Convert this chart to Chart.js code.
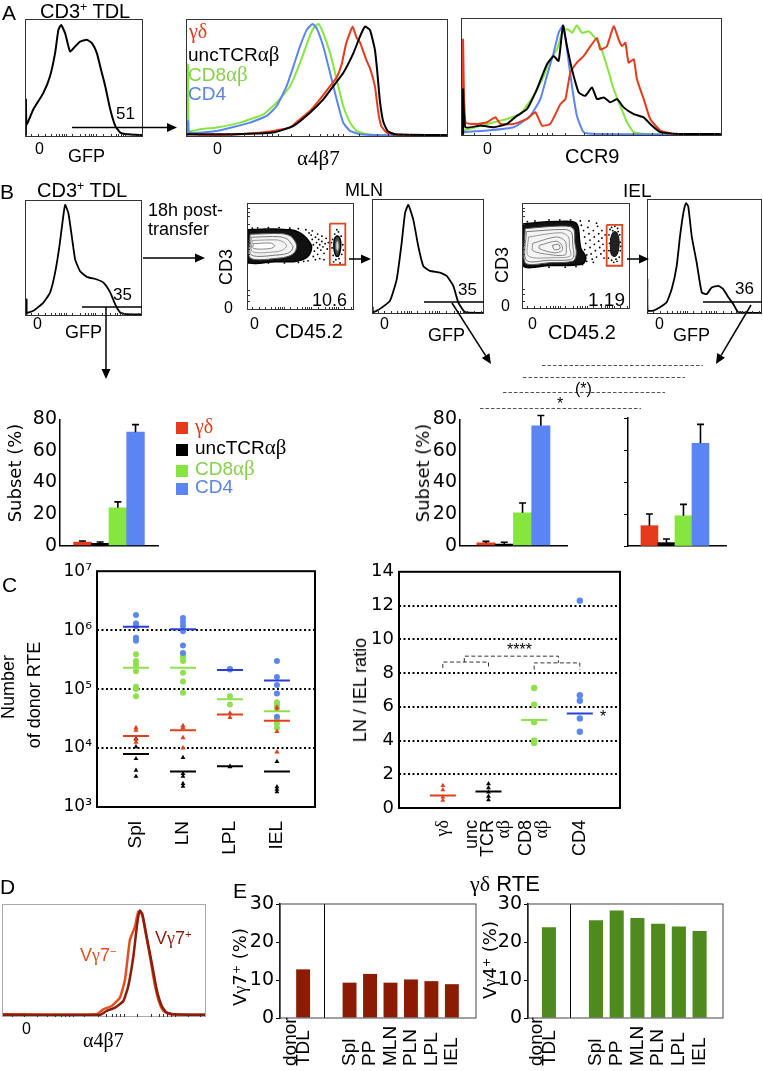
<!DOCTYPE html>
<html><head><meta charset="utf-8"><title>Figure</title>
<script src="https://cdn.jsdelivr.net/npm/chart.js@4.4.1/dist/chart.umd.min.js"></script>
<style>
html,body{margin:0;padding:0;background:#fff;}
body{width:763px;height:1071px;position:relative;overflow:hidden;font-family:"Liberation Sans",Arial,Helvetica,sans-serif;color:#000;}
canvas.c{position:absolute;}
#ov{position:absolute;left:0;top:0;z-index:5;pointer-events:none;}
.t{position:absolute;white-space:nowrap;line-height:1;z-index:6;}
.sf{font-family:"Liberation Serif","Times New Roman",serif;}
.gk{font-family:"Liberation Serif","Times New Roman",serif;font-size:1.1em;}
.vd{font-family:"DejaVu Sans",Verdana,sans-serif;}
.rot{transform:translate(-50%,-50%) rotate(-90deg);}
.sup{font-size:0.62em;position:relative;top:-0.55em;}
.sq{position:absolute;width:12px;height:12px;z-index:6;}
</style></head><body>
<script>
// ================= DATA =================
// Panel A histograms: [x (% of axis), y (% of max)]
const a1Gfp = [[0.8,0],[0.8,31],[1.4,9.9],[7.1,22.7],[15.6,36.8],[21.2,51],[25.5,70.8],[28.3,90.7],[30.6,94.9],[34,87.8],[38.2,72.2],[42.5,76.5],[46.7,80.7],[52.4,82.2],[56.7,79.3],[60.9,70.8],[63.7,59.5],[68,42.5],[72.2,22.7],[76.5,8.5],[80.7,2.8],[86.4,1.4],[100,0.6]];
const a2Gd  = [[0.3,1.4],[11.7,0.6],[24.4,2],[33.3,4.2],[39.7,7.1],[43.5,14.2],[47.3,21.2],[51.1,31.2],[55,42.5],[57.5,50],[59.5,62],[61,78],[62.2,86],[63.6,93.5],[65.1,84],[66.4,80],[67.7,72],[69,64],[70.2,58],[72.1,42.5],[73.4,20],[74.6,8],[76.6,2.8],[80,1],[100,0.6]];
const a2Unc = [[0.3,1.4],[18,1.4],[33.3,2.8],[41,8.5],[47.3,19.8],[52.4,31.2],[56.2,42.5],[60,53.8],[63.9,70.8],[66.4,85],[68.3,93.5],[70.2,90.7],[72.1,73.7],[73,55],[74,30],[75.3,12],[77,4],[79.8,1.4],[100,0.6]];
const a2Cd8 = [[0.5,0],[0.8,61],[1.2,4.2],[5.3,5.7],[11.7,7.1],[20.6,11.3],[29.5,18.4],[34.6,28.3],[39.7,42.5],[43.5,62.3],[46.7,82.2],[48.6,92],[50.5,95.8],[52.4,87.8],[55,70.8],[57.5,48.2],[60,25.5],[62.6,11.3],[65.1,4.2],[69,1.4],[74,0.6],[100,0.3]];
const a2Cd4 = [[0.5,0],[0.8,12.7],[1.2,2.8],[11.7,4.2],[24.4,11.3],[30.8,17],[34.6,25.5],[38.4,42.5],[41,59.5],[43.5,76.5],[46.1,90.7],[48.3,95.8],[49.9,92],[52.4,76.5],[55,53.8],[57.5,31.2],[60,11.3],[62.6,4.2],[66.4,1.4],[74,0.6],[100,0.3]];
const a3Gd  = [[0.8,0],[0.8,81.6],[1.7,10.8],[6.1,9.3],[10,10.8],[13.2,15],[15.1,9.3],[20.2,9.3],[25.3,13.6],[28.5,19.3],[31,7.9],[34.2,9.3],[38.1,26.3],[40,30.6],[41.9,53.3],[44.4,61.8],[47,67.4],[49.6,75.9],[52.1,83],[53.4,73.1],[55.9,75.9],[58.5,92.9],[60.4,81.6],[61.7,75.9],[63,78.7],[64.2,61.8],[66.2,64.6],[67.4,47.6],[70,30.6],[72.5,13.6],[76.4,3.7],[81.5,0.8],[100,0]];
const a3Unc = [[0.8,0],[0.8,39],[1.7,6.5],[7.4,7.9],[12.5,6.5],[17.6,9.3],[21.5,16.4],[25.3,22.1],[29.1,39.1],[32.9,60.3],[35.5,67.4],[37.4,63.2],[39.1,93.5],[40.6,75.9],[42.5,56.1],[45.1,36.3],[47.6,33.4],[50.2,40.5],[52.1,30.6],[54.7,32],[57.2,27.8],[59.8,30.6],[62.3,23.5],[66.2,17.8],[70,15],[72.5,9.3],[76.4,2.3],[84,0.8],[100,0.6]];
const a3Cd8 = [[1,3.7],[10,9.3],[17.6,13.6],[22.7,17.8],[27.8,33.4],[31.7,50.4],[34.2,64.6],[36.8,73.1],[39.1,90],[41.3,90],[42.5,87.3],[44.4,93.5],[46.4,87.3],[48.9,88.7],[50.8,84.4],[53.4,75.9],[55.9,58.9],[58.5,39.1],[61,24.9],[63.6,10.8],[66.2,2.3],[71.3,0.8],[100,0]];
const a3Cd4 = [[1,2.3],[10,3.7],[20.2,6.5],[26.6,16.4],[30.4,30.6],[32.9,50.4],[35.5,70.3],[37.4,87.3],[39.1,93.5],[40.6,73.1],[42.5,41.9],[44.4,16.4],[47,2.3],[52.1,0.8],[100,0]];

// Panel B histograms
const b1Gfp   = [[1.4,0],[1.4,13.5],[1.6,2],[7.1,3.5],[15.7,10.7],[21.4,19.3],[25.7,36.6],[29.4,59.7],[32.3,82.7],[34.3,95.7],[37.1,88.5],[40,68.3],[42.9,48.1],[47.1,38],[52.9,33.1],[61.4,30.8],[67.1,28],[72.9,19.3],[77.1,9.2],[81.4,2],[87.1,0.6],[100,0.3]];
const bMlnGfp = [[0.6,0],[0.6,5],[1,0.6],[7.1,3.5],[16.1,10.7],[22.1,29.6],[26.5,61.5],[29.5,87.6],[32.4,94.8],[36.9,81.7],[41.3,58.5],[45.8,41.1],[51.8,36.8],[60.7,35.4],[66.7,32.4],[72.6,23.7],[77,9.3],[83,0.6],[99.4,0]];
const bIelGfp = [[0.3,0],[0.3,29.6],[0.6,2],[5.5,2],[11.3,5],[17.1,9.3],[21.5,20.9],[25.8,41.1],[28.7,67.2],[31.6,87.6],[33.9,96.3],[35.9,93.3],[38.9,67.2],[43.2,44.1],[47.6,18],[51.9,16.5],[56.3,22.3],[62,23.7],[66.3,20.9],[70.7,13.7],[75,7.8],[79.4,0.6],[99.7,0]];

// Panel B contour plots: [CD45.2 %, CD3 %]
const mlnOuter = [[0.6,74.9],[14.5,75.5],[26.1,75.8],[40.6,74.9],[47.8,72.9],[53.6,69.1],[58,64.1],[60.3,59.8],[59.4,53.9],[56.5,49.6],[50.7,46.6],[43.5,45.2],[26.1,45.2],[0.6,45.2],[0.6,74.9]];
const mlnInner = [[2.9,70.8],[31.9,71.4],[40.6,69.1],[44.9,64.1],[46.4,59.8],[44.9,54.5],[40.6,51],[31.9,48.7],[2.9,48.7],[2.9,70.8]];
const mlnLoop1 = [[4,68],[30,68.5],[38,66],[42,61],[43,59.5],[42,56],[38,53],[30,51.5],[4,51.5],[4,68]];
const mlnLoop2 = [[5,65],[28,65.5],[34,63.5],[37,60],[34,56.5],[28,54.5],[5,54.5],[5,65]];
const mlnLoop3 = [[6,62],[22,62.5],[26,60],[22,57.5],[6,57.5],[6,62]];
const mlnDots = [[58,72],[60,70],[61,66],[62,61],[63,55],[62,50],[64,68],[65,63],[66,58],[66,52],[67,66],[68,61],[69,56],[70,64],[71,59],[72,53],[73,62],[74,67],[75,57],[76,63],[64,47],[68,48],[57,46],[55,75],[48,76],[40,76.5],[30,77],[20,77],[10,76.8],[5,76.5],[35,44],[20,44],[10,44],[48,44.5],[53,45.5],[61,74],[66,71],[70,69],[72,47],[59,57],[79.5,58],[80,66],[80.5,51],[82,71],[83,47],[85.5,73],[86,48],[88,69],[88.5,52],[89.5,61],[79,63],[90,56],[81,45],[87,44],[84,75]];
const mlnGateBlob = [[84,69.5],[86.3,68],[87.6,63],[87.2,56],[85.5,50.5],[83.3,50.5],[81.6,55],[81.2,62],[82,67],[84,69.5]];
const mlnGateCore = [[84.3,65],[85.6,63],[86,59],[85.2,55.5],[83.8,55.5],[83,59],[83.3,63],[84.3,65]];
const mlnGate = [[77.4,80.8],[91.9,80.8],[91.9,42.3],[77.4,42.3],[77.4,80.8]];

const ielOuter = [[0.6,80.2],[14.4,81.6],[31.6,82.5],[46,82.5],[50.3,80.8],[52.3,75.8],[53.2,65.6],[54.6,56.9],[58.9,49.6],[57.5,43.7],[51.7,41.7],[40.2,41.1],[25.9,41.1],[0.6,41.1],[0.6,80.2]];
const ielInner = [[2.9,75.8],[25.9,77.8],[44.5,77.8],[48.3,74.3],[48.9,62.7],[50.3,52.5],[47.4,45.2],[25.9,43.7],[2.9,43.7],[2.9,75.8]];
const ielLoop1 = [[4,73],[40,75],[46,72],[47,60],[48,50],[45,46.5],[25,46],[4,46],[4,73]];
const ielLoop2 = [[6,68],[36,72],[43,68],[44,58],[45,50],[30,48.5],[6,50],[6,68]];
const ielLoop3 = [[10,62],[32,68],[40,64],[41,56],[40,51],[28,51],[10,55],[10,62]];
const ielLoop4 = [[16,60],[32,64],[37,60],[37,55],[30,53],[16,57],[16,60]];
const ielLoop5 = [[28,60],[34,61],[35,57],[30,56],[28,60]];
const ielDots = [[55,79],[57,74],[58,68],[59,62],[58,56],[60,51],[61,77],[62,71],[63,65],[63,58],[64,52],[65,47],[66,74],[67,68],[67,61],[68,55],[69,49],[70,78],[71,71],[71,64],[72,58],[73,52],[74,67],[75,61],[76,55],[74,74],[77,70],[60,45],[66,44],[54,83],[45,84],[35,84],[25,84],[12,83],[5,82.5],[40,39.5],[25,39.5],[12,39.5],[50,40],[56,42],[62,83],[69,81],[76,48],[53,46],[80,48],[80.5,55],[81,62],[80.5,70],[81.5,75],[83,46],[83,77],[85,44],[86,78],[88,45],[88.5,76],[90,49],[91,55],[91,63],[90.5,70],[82,66],[89,73],[84,74],[87,47],[91.5,59]];
const ielGateBlob = [[85,73],[87.5,72.5],[89.5,68],[90,61],[89,54],[87,50],[84.5,49.5],[82.5,52],[81.8,58],[82,65],[83,70],[85,73]];
const ielGate = [[78.4,79.3],[92.8,79.3],[92.8,40.8],[78.4,40.8],[78.4,79.3]];

// Panel B subset bars (%)
const subsets = ['γδ','uncTCRαβ','CD8αβ','CD4'];
const subsetTdl = [2.3,1.4,24,71.9];   const subsetTdlErr = [2.9,2.3,27.7,76.7];
const subsetMln = [1.7,1.0,20.8,76];   const subsetMlnErr = [2.7,2.1,27,82.5];
const subsetIel = [12.7,2.1,18.9,64.2]; const subsetIelErr = [20,4.4,26,76];

// Panel C: number of donor RTE per tissue
const cTissues = ['Spl','LN','LPL','IEL'];
const cCd4 = [[1.8e6,1.3e6,1.17e6,7.4e5,6.6e5],[1.6e6,1.38e6,1.18e6,9.6e5,5.5e5,4.1e5],[2.2e5,2.15e5],[3.0e5,1.6e5,1.17e5,8.4e4,3.4e4]];
const cCd4Mean = [1.14e6,1.04e6,2.1e5,1.4e5];
const cCd8 = [[3.9e5,3.0e5,2.6e5,2.0e5,1.1e5,1.0e5,7.6e4],[3.8e5,3.45e5,3.0e5,1.9e5,1.35e5,8.7e4],[7.6e4,5.5e4],[6.0e4,5.4e4,4.8e4,3.1e4,2.6e4,2.2e4]];
const cCd8Mean = [2.3e5,2.3e5,6.7e4,4.2e4];
const cGd = [[2.2e4,2.0e4,1.4e4,1.25e4],[2.4e4,2.2e4,1.5e4,1.0e4],[3.9e4,3.3e4],[4.9e4,4.4e4,1.9e4,8.6e3]];
const cGdMean = [1.6e4,2.0e4,3.7e4,2.9e4];
const cUnc = [[1.45e4,1.05e4,6.6e3,4.2e3,3.3e3],[6.9e3,3.7e3,3.3e3,2.5e3,2.25e3],[4.8e3,4.9e3],[5.9e3,2.2e3,2.0e3,1.8e3]];
const cUncMean = [7.9e3,4.0e3,4.9e3,4.0e3];
const cTicks = [1e3,1e4,1e5,1e6,1e7];

// Panel C: LN / IEL ratio
const ratioCats = ['γδ','unc TCR αβ','CD8 αβ','CD4'];
const ratioGd  = [1.33,1.08,0.65,0.45];
const ratioUnc = [1.43,1.19,0.94,0.69,0.49];
const ratioCd8 = [7.11,6.13,5.09,4.01,3.86];
const ratioCd4 = [12.29,6.68,6.36,5.31,4.52];
const ratioMeans = [0.74,0.98,5.21,5.6];

// Panel D histograms
const dVg7pos = [[0,0.9],[48,0.9],[51.3,4.4],[55.4,7.4],[59.5,13.3],[61.9,26.6],[64.4,53.3],[66.3,82.8],[67.6,94.1],[68.9,90.2],[70.9,71],[73.4,47.3],[75.8,23.7],[78.3,8.9],[80.7,3],[84,1.5],[100,0.9]];
const dVg7neg = [[0,1.5],[46.4,1.5],[49.7,5.9],[53.8,8.9],[57.8,16.3],[60.3,32.5],[62.7,68],[65.2,79.9],[66.8,93.2],[68.5,91.7],[70.1,76.9],[72.5,53.3],[75,26.6],[77.1,11.8],[79.1,4.4],[82.4,1.5],[100,0.9]];

// Panel E: γδ RTE
const eCats = ['donor TDL','Spl','PP','MLN','PLN','LPL','IEL'];
const eVg7 = [12.8,9.3,11.6,9.3,10.15,9.7,8.9];
const eVg4 = [23.9,25.7,28.3,26.3,24.8,24.1,22.9];

// flow axis minor tick positions (% of axis)
const flowTicks = [5,11,17,22,26,29,31,33,35,40,47,51,54,56,58,60,66,73,77,79,81,83,85,91,97];
const contourTicksY = [8,14,19,44,52,57,60,63,65,80,88,92,95];

// ================= STYLE CONSTANTS =================
const RED='#e63a1c', BLK='#000', GRN='#86e63f', BLU='#5b85f2';
const SANS='"Liberation Sans", Arial, sans-serif', SERIF='"Liberation Serif", "Times New Roman", serif', VERD='"DejaVu Sans", Verdana, sans-serif';

// ================= PLUGINS =================
const framePlugin = { id:'frame', afterDraw(chart,args,o){
  if(!o || !o.color) return; const {ctx,chartArea:a}=chart; const w=o.width||1; const i=o.inset?w/2:0;
  ctx.save(); ctx.strokeStyle=o.color; ctx.lineWidth=w; ctx.strokeRect(a.left+i,a.top+i,a.right-a.left-2*i,a.bottom-a.top-2*i); ctx.restore(); } };
const fticksPlugin = { id:'fticks', afterDraw(chart,args,o){
  if(!o || (!o.x && !o.y)) return; const {ctx,chartArea:a}=chart; const L=o.len||3;
  ctx.save(); ctx.strokeStyle=o.color||'#333'; ctx.lineWidth=1; ctx.beginPath();
  (o.x||[]).forEach(v=>{const p=Math.round(chart.scales.x.getPixelForValue(v))+0.5; ctx.moveTo(p,a.bottom); ctx.lineTo(p,a.bottom-L);});
  (o.y||[]).forEach(v=>{const p=Math.round(chart.scales.y.getPixelForValue(v))+0.5; ctx.moveTo(a.left,p); ctx.lineTo(a.left+L,p);});
  ctx.stroke(); ctx.restore(); } };
const errPlugin = { id:'errbars', afterDatasetsDraw(chart){
  const ctx=chart.ctx, ys=chart.scales.y;
  chart.data.datasets.forEach((ds,di)=>{ if(!ds.errorBars) return; const meta=chart.getDatasetMeta(di);
    meta.data.forEach((bar,i)=>{ const yt=ys.getPixelForValue(ds.errorBars[i]);
      ctx.save(); ctx.strokeStyle='#000'; ctx.lineWidth=1.6; ctx.beginPath();
      ctx.moveTo(bar.x,bar.y); ctx.lineTo(bar.x,yt); ctx.moveTo(bar.x-3.5,yt); ctx.lineTo(bar.x+3.5,yt); ctx.stroke(); ctx.restore(); }); }); } };
const rlabelsPlugin = { id:'rlabels', afterDraw(chart,args,o){
  if(!o || !o.items) return; const ctx=chart.ctx, a=chart.chartArea, xs=chart.scales.x;
  const y0 = o.baseY!=null ? o.baseY : a.bottom + (o.gap||10);
  o.items.forEach(it=>{ const px=xs.getPixelForValue(it.pos); const n=it.lines.length;
    it.lines.forEach((ln,j)=>{ ctx.save(); ctx.translate(px+(j-(n-1)/2)*o.lh+(n>1?(o.mdx||0):0), y0); ctx.rotate(-Math.PI/2);
      ctx.textAlign=o.align||'right'; ctx.textBaseline='middle'; ctx.font=ln.font||o.font; ctx.fillStyle='#000'; ctx.fillText(ln.t,0,0); ctx.restore(); }); }); } };
const annotPlugin = { id:'annot', afterDatasetsDraw(chart,args,o){
  if(!o) return; const ctx=chart.ctx, a=chart.chartArea, xs=chart.scales.x, ys=chart.scales.y;
  (o.vlines||[]).forEach(v=>{ const p=Math.round(xs.getPixelForValue(v))+0.5; ctx.save(); ctx.strokeStyle='#000'; ctx.lineWidth=1; ctx.beginPath(); ctx.moveTo(p,a.top); ctx.lineTo(p,a.bottom); ctx.stroke(); ctx.restore(); });
  (o.brackets||[]).forEach(b=>{ const x1=xs.getPixelForValue(b.x1), x2=xs.getPixelForValue(b.x2), y=ys.getPixelForValue(b.y), e1=ys.getPixelForValue(b.e1), e2=ys.getPixelForValue(b.e2);
    ctx.save(); ctx.strokeStyle='#333'; ctx.lineWidth=1; ctx.setLineDash([4,2.5]); ctx.beginPath(); ctx.moveTo(x1,e1); ctx.lineTo(x1,y); ctx.lineTo(x2,y); ctx.lineTo(x2,e2); ctx.stroke(); ctx.restore(); }); } };
Chart.register(framePlugin, fticksPlugin, errPlugin, rlabelsPlugin, annotPlugin);

// ================= HELPERS =================
function mk(left,top,w,h,cfg){
  const c=document.createElement('canvas'); c.className='c';
  c.style.left=left+'px'; c.style.top=top+'px'; c.style.width=w+'px'; c.style.height=h+'px'; c.width=w; c.height=h;
  document.body.appendChild(c);
  cfg.options=Object.assign({responsive:false,animation:false,devicePixelRatio:1,events:[]},cfg.options||{});
  cfg.options.plugins=Object.assign({legend:{display:false},tooltip:{enabled:false}},cfg.options.plugins||{});
  return new Chart(c.getContext('2d'),cfg);
}
const pts = d => d.map(p=>({x:p[0],y:p[1]}));
function flowHist(left,top,w,h,series,frameColor,lw){
  return mk(left,top,w,h,{type:'line',
    data:{datasets:series.map(s=>({data:pts(s.d),borderColor:s.c,borderWidth:lw||2,pointRadius:0,tension:0.15,fill:false}))},
    options:{layout:{padding:0},plugins:{frame:{color:frameColor||'#333',width:1,inset:true},fticks:{x:flowTicks,len:3}},
      scales:{x:{type:'linear',min:0,max:100,display:false},y:{type:'linear',min:-1,max:100,display:false}}}});
}
function contour(left,top,w,h,layers){
  return mk(left,top,w,h,{type:'scatter',
    data:{datasets:layers.map(L=> L.dots
      ? {data:pts(L.d),showLine:false,pointRadius:L.r||0.9,backgroundColor:L.c,borderWidth:0}
      : {data:pts(L.d),showLine:true,borderColor:L.c,borderWidth:L.w||1,backgroundColor:L.f||'rgba(0,0,0,0)',fill:L.f?'shape':false,pointRadius:0,tension:(L.t!=null?L.t:0.3)})},
    options:{layout:{padding:0},plugins:{frame:{color:'#333',width:1,inset:true},fticks:{x:flowTicks,y:contourTicksY,len:3}},
      scales:{x:{type:'linear',min:0,max:100,display:false},y:{type:'linear',min:0,max:100,display:false}}}});
}
const subsetColors=[RED,'#000',GRN,BLU];
function subsetBars(left,top,w,h,vals,errs,o){
  return mk(left,top,w,h,{type:'bar',
    data:{datasets:[{data:vals.map((v,i)=>({x:i,y:v})),backgroundColor:subsetColors,errorBars:errs,barPercentage:1,categoryPercentage:1,borderWidth:0}]},
    options:{layout:{padding:{left:0,right:o.padR,top:13,bottom:o.padB}},
      scales:{
        x:{type:'linear',offset:false,min:o.xmin,max:o.xmax,ticks:{display:false},grid:{display:false},border:{display:true,color:'#000',width:1.5},afterFit:s=>{s.height=0;}},
        y:{type:'linear',min:0,max:80,afterBuildTicks:s=>{s.ticks=[0,20,40,60,80].map(v=>({value:v}));},
           ticks:{display:o.labels,font:{family:VERD,size:19},color:'#000',padding:3},
           grid:{drawOnChartArea:false,drawTicks:!o.labels,tickLength:4,color:'#000'},
           border:{color:'#000',width:1.5},afterFit:s=>{s.width=o.yw;}}}}});
}

// ================= PANEL A =================
flowHist(25,19,118,118,[{d:a1Gfp,c:'#000'}]);
flowHist(186,19,262,118,[{d:a2Unc,c:BLK},{d:a2Gd,c:RED},{d:a2Cd4,c:BLU},{d:a2Cd8,c:GRN}]);
flowHist(461,18,261,118,[{d:a3Unc,c:BLK},{d:a3Gd,c:RED},{d:a3Cd4,c:BLU},{d:a3Cd8,c:GRN}]);

// ================= PANEL B =================
flowHist(25,200,117,116,[{d:b1Gfp,c:'#000'}],'#333',1.8);
contour(243,199,115,115,[
  {d:mlnGate,c:'#e0461e',w:1.8,t:0},
  {d:mlnGateCore,c:'#666',f:'#d8d8d8',w:1},
  {d:mlnGateBlob,c:'#000',f:'#444',w:1.5},
  {d:mlnLoop3,c:'#888',f:'#fff',w:1},
  {d:mlnLoop2,c:'#999',w:1},
  {d:mlnLoop1,c:'#777',w:1},
  {d:mlnInner,c:'#555',f:'#f4f4f4',w:1},
  {d:mlnOuter,c:'#000',f:'#111',w:1.5},
  {d:mlnDots,c:'#000',dots:true,r:0.9}]);
flowHist(372,199,112,115,[{d:bMlnGfp,c:'#000'}],'#333',1.8);
contour(518,199,116,114,[
  {d:ielGate,c:'#e0461e',w:1.8,t:0},
  {d:ielGateBlob,c:'#111',f:'#222',w:1},
  {d:ielLoop5,c:'#777',w:1},
  {d:ielLoop4,c:'#888',w:1},
  {d:ielLoop3,c:'#888',w:1},
  {d:ielLoop2,c:'#999',w:1},
  {d:ielLoop1,c:'#777',w:1},
  {d:ielInner,c:'#555',f:'#f4f4f4',w:1},
  {d:ielOuter,c:'#000',f:'#111',w:1.5},
  {d:ielDots,c:'#000',dots:true,r:0.9}]);
flowHist(647,199,115,115,[{d:bIelGfp,c:'#000'}],'#333',1.8);

subsetBars(22,405,146,155,subsetTdl,subsetTdlErr,{padR:10,padB:14,xmin:-1.27,xmax:4.27,labels:true,yw:38});
subsetBars(422,405,155,155,subsetMln,subsetMlnErr,{padR:10,padB:14,xmin:-1.42,xmax:4.43,labels:true,yw:38});
subsetBars(622,405,114,155,subsetIel,subsetIelErr,{padR:10,padB:14,xmin:-1.26,xmax:4.5,labels:false,yw:6});

// ================= PANEL C =================
const SUP={3:'³',4:'⁴',5:'⁵',6:'⁶',7:'⁷'};
const flat = arr => arr.flatMap((vals,i)=>vals.map(v=>({x:i,y:v})));
const meanSet = (vals,color) => ({data:vals.map((v,i)=>({x:i,y:v})),pointStyle:'line',pointRadius:13,borderColor:color,borderWidth:2,backgroundColor:color});
const dotSet = (data,color,style,r) => ({data,pointStyle:style,pointRadius:r,backgroundColor:color,borderColor:color,borderWidth:0});
mk(40,556,290,320,{type:'scatter',
  data:{datasets:[
    meanSet(cCd4Mean,'#2c3ed6'),meanSet(cCd8Mean,'#8ee04c'),meanSet(cGdMean,'#e0401c'),meanSet(cUncMean,'#000'),
    dotSet(flat(cGd),'#e0401c','triangle',3),dotSet(flat(cUnc),'#000','triangle',2.8),
    dotSet(flat(cCd4),'#5b87ee','circle',3),dotSet(flat(cCd8),'#8ee04c','circle',3)]},
  options:{layout:{padding:{left:0,right:10,top:15,bottom:69}},
    plugins:{frame:{color:'#000',width:2},
      rlabels:{items:cTissues.map((t,i)=>({pos:i,lines:[{t}]})),gap:14,align:'right',lh:18,font:'19px '+SANS}},
    scales:{x:{type:'linear',min:-0.83,max:3.81,display:false},
      y:{type:'logarithmic',min:1e3,max:1e7,afterBuildTicks:s=>{s.ticks=cTicks.map(v=>({value:v}));},
        ticks:{callback:v=>'10'+SUP[Math.round(Math.log10(v))],font:{family:VERD,size:17},color:'#000',padding:5},
        grid:{color:c=>(c.tick && c.tick.value>1e3 && c.tick.value<1e7)?'#000':'rgba(0,0,0,0)',lineWidth:2,drawTicks:false},
        border:{display:false,dash:[2,2.5]},afterFit:s=>{s.width=57;}}}}});

const ratioLabelItems = ratioCats.map((t,i)=>({pos:i,lines:t.split(' ').map(w=>({t:w,font:/[α-ω]/.test(w)?'18px '+SERIF:null}))}));
mk(362,556,273,320,{type:'scatter',
  data:{datasets:[
    {data:ratioMeans.map((v,i)=>({x:i,y:v})),pointStyle:'line',pointRadius:13,borderWidth:2,borderColor:['#e0401c','#000','#8ee04c','#2c3ed6']},
    dotSet(ratioGd.map(v=>({x:0,y:v})),'#e0401c','triangle',2.8),
    dotSet(ratioUnc.map(v=>({x:1,y:v})),'#000','triangle',2.8),
    dotSet(ratioCd8.map(v=>({x:2,y:v})),'#8ee04c','circle',3.2),
    dotSet(ratioCd4.map(v=>({x:3,y:v})),'#5b87ee','circle',3.2)]},
  options:{layout:{padding:{left:0,right:10,top:14,bottom:68}},
    plugins:{frame:{color:'#000',width:2},
      rlabels:{items:ratioLabelItems,gap:12,align:'right',lh:16,font:'18px '+SANS},
      annot:{brackets:[{x1:0,x2:1,y:8.65,e1:8.3,e2:8.3},{x1:2,x2:3,y:8.6,e1:8.2,e2:8.2},{x1:0.47,x2:2.53,y:9.0,e1:8.65,e2:8.6}]}},
    scales:{x:{type:'linear',min:-0.96,max:3.88,display:false},
      y:{type:'linear',min:0,max:14,afterBuildTicks:s=>{s.ticks=[0,2,4,6,8,10,12,14].map(v=>({value:v}));},
        ticks:{font:{family:VERD,size:18},color:'#000',padding:5},
        grid:{color:c=>(c.tick && c.tick.value>0 && c.tick.value<14)?'#000':'rgba(0,0,0,0)',lineWidth:2,drawTicks:false},
        border:{display:false,dash:[2,2.5]},afterFit:s=>{s.width=37;}}}}});

// ================= PANEL D =================
flowHist(2,904,204,113,[{d:dVg7pos,c:'#8c1c0c'},{d:dVg7neg,c:'#e2501f'}],'#aaa',2.5);

// ================= PANEL E =================
const E_GAP=2.27;
const ePos = i => i===0 ? 0 : E_GAP+i-1;
function eBars(left,vals,color,xmin,xmax){
  return mk(left,888,240,183,{type:'bar',
    data:{datasets:[{data:vals.map((v,i)=>({x:ePos(i),y:v})),backgroundColor:color,barPercentage:0.68,categoryPercentage:1,borderWidth:0}]},
    options:{layout:{padding:{left:0,right:(left===245?9:10),top:16,bottom:53}},
      plugins:{frame:{color:'#444',width:1},annot:{vlines:[1.02]},
        rlabels:{items:eCats.map((t,i)=>({pos:ePos(i),lines:t.split(' ').map(w=>({t:w}))})),baseY:178,align:'left',lh:13,mdx:-6,font:'19px '+SANS}},
      scales:{x:{type:'linear',offset:false,min:xmin,max:xmax,display:false},
        y:{type:'linear',min:0,max:30,afterBuildTicks:s=>{s.ticks=[0,5,10,15,20,25,30].map(v=>({value:v}));},
          ticks:{callback:v=>(v%10===0?String(v):''),font:{family:VERD,size:19},color:'#000',padding:2},
          grid:{drawOnChartArea:false,tickLength:4,color:'#000'},border:{color:'#000',width:1.5},afterFit:s=>{s.width=35;}}}}});
}
eBars(245,eVg7,'#8b1c02',-1.13,8.45);
eBars(493,eVg4,'#4f8a1f',-1.01,8.4);

// ================= OVERLAY: arrows, gates, significance lines =================
const ov=document.createElement('canvas'); ov.id='ov'; ov.width=763; ov.height=1071; document.body.appendChild(ov);
const g=ov.getContext('2d'); g.strokeStyle='#000'; g.fillStyle='#000'; g.lineWidth=1.5;
function seg(x1,y1,x2,y2){g.beginPath();g.moveTo(x1,y1);g.lineTo(x2,y2);g.stroke();}
function arrow(x1,y1,x2,y2){const a=Math.atan2(y2-y1,x2-x1),L=10,W=4.5;const bx=x2-L*Math.cos(a),by=y2-L*Math.sin(a);
  seg(x1,y1,bx,by); g.beginPath(); g.moveTo(x2,y2); g.lineTo(bx-W*Math.sin(a),by+W*Math.cos(a)); g.lineTo(bx+W*Math.sin(a),by-W*Math.cos(a)); g.closePath(); g.fill();}
arrow(72,127.5,177,127.5);
seg(82,307,142,307); arrow(106,307,106,379);
arrow(143,258,205,258);
arrow(349,259,371,259);
seg(424,302,484,302); arrow(452,303,491,364);
arrow(627,259,649,259);
seg(703,302,762,302); arrow(751,305,716,364);
g.save(); g.strokeStyle='#555'; g.lineWidth=1; g.setLineDash([3.5,2]);
seg(542,365.5,703,365.5); seg(523,377.5,685,377.5); seg(503,392.5,665,392.5); seg(480,408.5,641,408.5);
g.restore();

// ================= TEXT =================
const texts=[
 ['A',2,2,21],['CD3<span class="sup">+</span> TDL',40,1,20],['51',116,105,17],['0',35,141,16],['GFP',68,147,18],
 ['<span class="sf">γδ</span>',189,21,20,'','#e23b1c'],['uncTCR<span class="gk">αβ</span>',188,44,19],
 ['CD8<span class="gk">αβ</span>',188,64,19,'','#86d048'],['CD4',188,84,19,'','#5b83e8'],
 ['0',213,141,16],['α4β7',297,148,21,'sf'],['0',483,141,16],['CCR9',565,146,20],
 ['B',0,181,21],['CD3<span class="sup">+</span> TDL',37,180,20],['35',113,286,17],['0',33,316,16],['GFP',65,323,18],
 ['18h post-',148,201,18],['transfer',148,220,18],['MLN',345,181,18],['CD3',226,267,18,'rot'],['0',224,300,16],
 ['10.6',312,291,18],['0',250,316,16],['CD45.2',275,321,20],['35',458,281,17],['0',380,316,16],['GFP',428,326,18],
 ['IEL',623,181,19],['CD3',502,265,18,'rot'],['0',501,298,16],['1.19',588,290,19],['0',528,316,16],['CD45.2',548,322,20],
 ['36',735,280,17],['0',655,316,16],['GFP',673,326,18],['(*)',575,381,16],['*',557,396,16],
 ['Subset (%)',15,473,18,'rot vd'],['Subset (%)',423,473,18,'rot vd'],
 ['<span class="sf">γδ</span>',195,416,20,'','#e23b1c'],['uncTCR<span class="gk">αβ</span>',195,437,19],
 ['CD8<span class="gk">αβ</span>',195,458,19,'','#86d048'],['CD4',195,477,19,'','#5b83e8'],
 ['C',2,574,21],['Number',8,687,18,'rot'],['of donor RTE',34,695,18,'rot'],['LN / IEL ratio',360,690,18,'rot'],
 ['****',507,642,16],['*',600,709,16],['<span class="sf">γδ</span> RTE',470,873,22],
 ['D',0,876,21],['V<span class="sf">γ</span>7<span class="sup">−</span>',80,946,18,'','#e2501f'],
 ['V<span class="sf">γ</span>7<span class="sup">+</span>',155,929,18,'','#8c1c0c'],['0',22,1021,16],['α4β7',83,1030,20,'sf'],
 ['E',233,880,21],['V<span class="sf">γ</span>7<span class="sup">+</span> (%)',240,967,18,'rot vd'],['V<span class="sf">γ</span>4<span class="sup">+</span> (%)',490,960,18,'rot vd']
];
texts.forEach(([h,x,y,s,cls,col])=>{const d=document.createElement('div'); d.className='t '+(cls||''); d.innerHTML=h;
  d.style.left=x+'px'; d.style.top=y+'px'; d.style.fontSize=s+'px'; if(col) d.style.color=col; document.body.appendChild(d);});
[[176,422,RED],[176,444,'#000'],[176,465,GRN],[176,483,BLU]].forEach(([x,y,c])=>{const d=document.createElement('div'); d.className='sq';
  d.style.left=x+'px'; d.style.top=y+'px'; d.style.background=c; document.body.appendChild(d);});
</script>
</body></html>
